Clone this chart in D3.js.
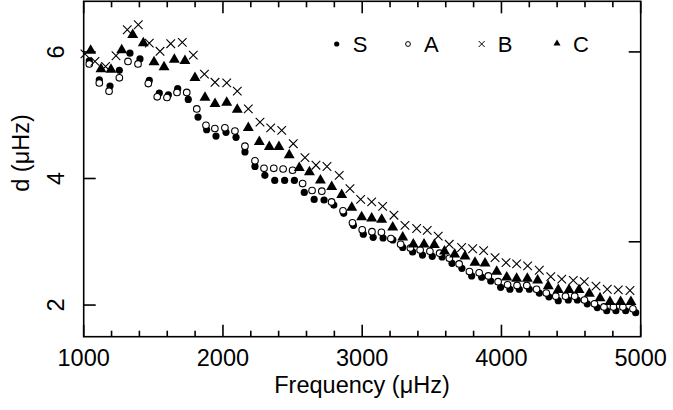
<!DOCTYPE html>
<html><head><meta charset="utf-8">
<script src="https://cdn.jsdelivr.net/npm/d3@7"></script>
<style>body{margin:0;background:#fff}svg text{font-family:"Liberation Sans",Arial,sans-serif;fill:#000}</style>
</head><body><svg id="c" width="673" height="410"></svg>
<script>
const freqS=[1040,1112,1189,1256,1332,1404,1471,1543,1608,1675,1751,1821,1883,1950,2022,2094,2158,2230,2301,2372,2443,2513,2584,2655,2726,2796,2867,2937,3008,3079,3150,3220,3291,3362,3433,3503,3574,3645,3716,3786,3858,3923,3994,4061,4128,4200,4272,4341,4408,4480,4545,4616,4688,4756,4822,4892,4964];
const valS=[5.86,5.56,5.46,5.71,5.98,5.89,5.55,5.35,5.32,5.42,5.25,4.97,4.77,4.67,4.73,4.65,4.42,4.19,4.05,3.97,3.97,3.97,3.78,3.67,3.66,3.58,3.45,3.26,3.12,3.07,3.06,3.03,2.91,2.84,2.79,2.77,2.76,2.66,2.58,2.46,2.44,2.38,2.28,2.25,2.25,2.25,2.19,2.13,2.07,2.08,2.08,2.02,1.96,1.91,1.91,1.91,1.88];
const freqA=[1040,1112,1182,1256,1318,1390,1464,1528,1598,1670,1740,1812,1878,1942,2014,2086,2158,2230,2295,2365,2432,2500,2572,2640,2710,2780,2862,2930,3000,3070,3138,3206,3276,3346,3416,3486,3556,3626,3696,3770,3840,3906,3976,4044,4112,4182,4252,4322,4390,4460,4526,4596,4668,4736,4804,4872,4944];
const valA=[5.81,5.51,5.38,5.59,5.85,5.81,5.50,5.29,5.28,5.36,5.36,5.10,4.84,4.79,4.80,4.75,4.51,4.28,4.16,4.16,4.15,4.13,3.92,3.81,3.80,3.63,3.49,3.30,3.19,3.16,3.15,3.05,2.96,2.90,2.87,2.85,2.82,2.74,2.65,2.53,2.51,2.46,2.37,2.32,2.31,2.31,2.25,2.19,2.14,2.14,2.14,2.08,2.02,1.97,1.97,1.97,1.94];
const freqB=[1009,1081,1157,1232,1313,1392,1471,1548,1625,1708,1787,1867,1943,2027,2103,2182,2266,2343,2422,2505,2589,2668,2747,2835,2912,2989,3068,3147,3228,3307,3391,3467,3546,3625,3714,3793,3872,3954,4033,4109,4188,4272,4354,4433,4516,4595,4679,4760,4839,4923];
const valB=[5.97,5.85,5.77,5.94,6.35,6.43,6.14,6.01,6.13,6.15,5.95,5.65,5.52,5.51,5.38,5.10,4.89,4.80,4.76,4.55,4.33,4.21,4.19,4.05,3.84,3.67,3.63,3.56,3.42,3.26,3.21,3.18,3.09,2.96,2.91,2.89,2.86,2.75,2.67,2.65,2.62,2.55,2.45,2.41,2.39,2.37,2.30,2.25,2.24,2.23];
const freqC=[1050,1124,1196,1273,1352,1428,1505,1577,1651,1727,1799,1871,1943,2027,2103,2182,2261,2333,2402,2476,2548,2621,2700,2781,2853,2925,2996,3068,3140,3219,3291,3367,3444,3518,3591,3664,3738,3810,3882,3966,4038,4109,4186,4260,4336,4408,4485,4557,4631,4708,4779,4856,4930];
const valC=[6.02,5.73,5.72,6.03,6.27,6.14,5.84,5.76,5.88,5.86,5.59,5.28,5.18,5.20,5.09,4.80,4.58,4.50,4.50,4.37,4.17,4.10,3.97,3.87,3.74,3.54,3.39,3.37,3.35,3.23,3.07,2.96,2.96,2.95,2.85,2.80,2.77,2.67,2.66,2.53,2.44,2.42,2.42,2.39,2.30,2.24,2.24,2.24,2.18,2.11,2.05,2.05,2.05];
const xMajor=[1000,2000,3000,4000,5000];
const yLabels=[2,4,6];
const legendNames=["S","A","B","C"];

const svg=d3.select("#c");
const L=83.7,R=640.7,T=1.3,B=336.7;
const x=d3.scaleLinear().domain([1000,5000]).range([L,R]);
const y=d3.scaleLinear().domain([1.5,6.8]).range([B,T]);
const g=svg.append("g");

function pts(fx,vy){return fx.map((f,i)=>[x(f),y(vy[i])]);}
g.selectAll(".s").data(pts(freqS,valS)).join("circle").attr("cx",d=>d[0]).attr("cy",d=>d[1]).attr("r",3.6).attr("fill","#000");
g.selectAll(".a").data(pts(freqA,valA)).join("circle").attr("cx",d=>d[0]).attr("cy",d=>d[1]).attr("r",3.3).attr("fill","#fff").attr("stroke","#000").attr("stroke-width",1.1);
const cr=4.3;
g.selectAll(".b").data(pts(freqB,valB)).join("path").attr("d",d=>`M${d[0]-cr},${d[1]-cr}L${d[0]+cr},${d[1]+cr}M${d[0]-cr},${d[1]+cr}L${d[0]+cr},${d[1]-cr}`).attr("stroke","#000").attr("stroke-width",1.1).attr("fill","none");
const tri=d3.symbol().type(d3.symbolTriangle).size(52);
g.selectAll(".c").data(pts(freqC,valC)).join("path").attr("transform",d=>`translate(${d[0]},${d[1]})`).attr("d",tri).attr("fill","#000");

const ax=svg.append("g").attr("stroke","#000").attr("stroke-width",1.6).attr("fill","none");
ax.append("rect").attr("x",L).attr("y",T).attr("width",R-L).attr("height",B-T);
const minorX=d3.range(1000,5001,200);
minorX.forEach(f=>{
  const len=xMajor.includes(f)?12:6;
  ax.append("line").attr("x1",x(f)).attr("x2",x(f)).attr("y1",B).attr("y2",B-len);
  ax.append("line").attr("x1",x(f)).attr("x2",x(f)).attr("y1",T).attr("y2",T+len);
});
yLabels.forEach(v=>{ax.append("line").attr("x1",L).attr("x2",L+12).attr("y1",y(v)).attr("y2",y(v));});
[3,6].forEach(v=>{ax.append("line").attr("x1",R).attr("x2",R-12).attr("y1",y(v)).attr("y2",y(v));});

svg.selectAll(".xl").data(xMajor).join("text").attr("x",d=>x(d)).attr("y",366).attr("text-anchor","middle").attr("font-size",23.5).text(d=>d);
svg.selectAll(".yl").data(yLabels).join("text").attr("transform",d=>`translate(64,${y(d)}) rotate(-90)`).attr("text-anchor","middle").attr("font-size",23.5).text(d=>d);
svg.append("text").attr("x",362).attr("y",393).attr("text-anchor","middle").attr("font-size",23.5).text("Frequency (μHz)");
svg.append("text").attr("transform","translate(29,153) rotate(-90)").attr("text-anchor","middle").attr("font-size",23.5).text("d (μHz)");

const lx=[336.7,408,481.7,557];
const lg=svg.append("g");
lg.append("circle").attr("cx",lx[0]).attr("cy",44).attr("r",2.6).attr("fill","#000");
lg.append("circle").attr("cx",lx[1]).attr("cy",44).attr("r",2.4).attr("fill","#fff").attr("stroke","#000").attr("stroke-width",1);
lg.append("path").attr("d",`M${lx[2]-3},41L${lx[2]+3},47M${lx[2]-3},47L${lx[2]+3},41`).attr("stroke","#000").attr("stroke-width",1);
lg.append("path").attr("transform",`translate(${lx[3]},43.5)`).attr("d",d3.symbol().type(d3.symbolTriangle).size(22)).attr("fill","#000");
lg.selectAll("text").data(legendNames).join("text").attr("x",(d,i)=>lx[i]+16).attr("y",52).attr("font-size",22).text(d=>d);
</script></body></html>
